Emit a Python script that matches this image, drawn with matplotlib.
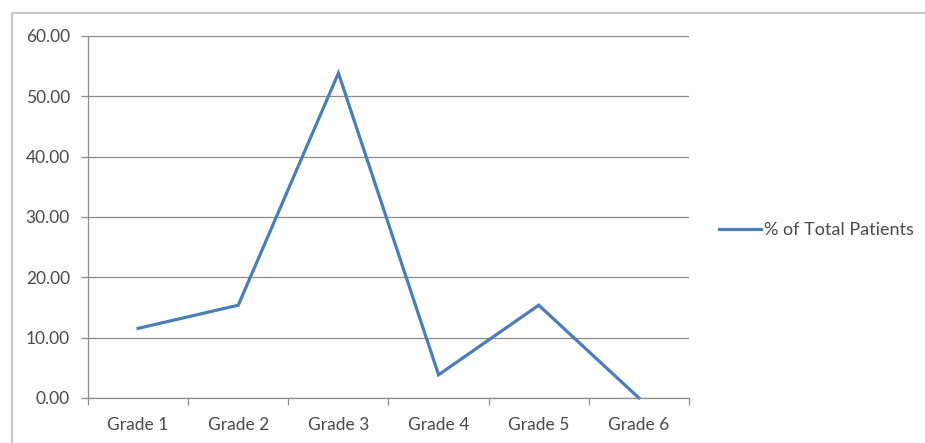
import matplotlib
matplotlib.use("Agg")
import matplotlib.pyplot as plt
from matplotlib.lines import Line2D

GRADES = ["Grade 1", "Grade 2", "Grade 3", "Grade 4", "Grade 5", "Grade 6"]
PCT_PATIENTS = [11.54, 15.38, 53.85, 3.85, 15.38, 0.00]
Y_TICKS = [0, 10, 20, 30, 40, 50, 60]

W, H = 925, 443
GRID = "#8c8c8c"
BLUE = "#4a7ebb"
TEXT = "#4a4a4a"
FS = 12.5

plt.rcParams["font.family"] = ["Lato", "DejaVu Sans"]

fig = plt.figure(figsize=(W / 100, H / 100), dpi=100)

# outer chart border: only left and top edges are inside the crop
fig.lines.append(Line2D([12 / W, 12 / W, 1], [0, 1 - 13 / H, 1 - 13 / H],
                        transform=fig.transFigure, color="#c8c8c8", lw=1.5))

# plot area in pixels: x 88..689, y 36..398
ax = fig.add_axes([88 / W, 1 - 398 / H, (689 - 88) / W, (398 - 36) / H])

x = list(range(len(GRADES)))
ax.plot(x, PCT_PATIENTS, color=BLUE, lw=2.3, solid_joinstyle="miter",
        label="% of Total Patients", clip_on=False)

ax.set_xlim(-0.5, len(GRADES) - 0.5)
ax.set_ylim(0, 60)
ax.set_yticks(Y_TICKS)
ax.set_yticklabels([f"{v:.2f}" for v in Y_TICKS])
ax.set_xticks(x)
ax.set_xticklabels(GRADES)
ax.set_xticks([i + 0.5 for i in range(-1, len(GRADES))], minor=True)

ax.grid(axis="y", color=GRID, lw=0.9)
ax.set_axisbelow(True)
for side in ["top", "right"]:
    ax.spines[side].set_visible(False)
for side in ["left", "bottom"]:
    ax.spines[side].set_color(GRID)
    ax.spines[side].set_linewidth(0.9)

ax.tick_params(axis="y", length=5, width=0.9, color=GRID, labelsize=FS,
               labelcolor=TEXT, pad=8)
ax.tick_params(axis="x", which="major", length=0, labelsize=FS,
               labelcolor=TEXT, pad=14)
ax.tick_params(axis="x", which="minor", length=5, width=0.9, color=GRID)

leg = fig.legend(loc="center left", bbox_to_anchor=(712 / W, 1 - 230 / H),
                 frameon=False, fontsize=13, handlelength=2.3,
                 handletextpad=0.2, borderaxespad=0)
for t in leg.get_texts():
    t.set_color(TEXT)

fig.savefig("out.png", dpi=100)
